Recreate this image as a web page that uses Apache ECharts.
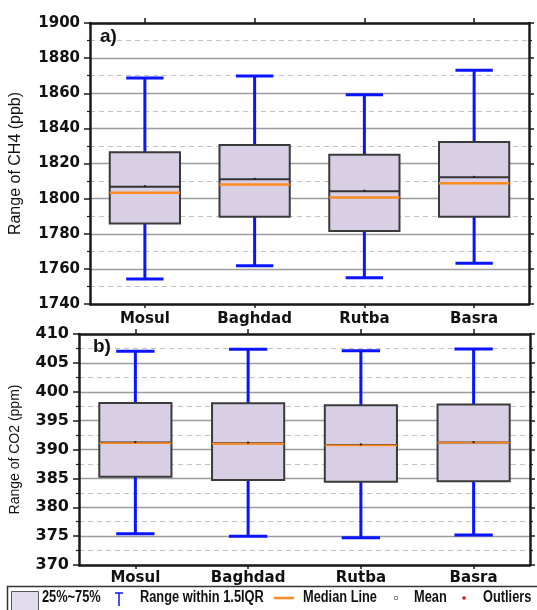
<!DOCTYPE html>
<html>
<head>
<meta charset="utf-8">
<script src="https://cdn.jsdelivr.net/npm/echarts@6/dist/echarts.min.js"></script>
<style>
html,body{margin:0;padding:0;background:#fff;}
#chart{width:537px;height:610px;}
</style>
</head>
<body>
<div id="chart"></div>
<script>
const categories = ['Mosul', 'Baghdad', 'Rutba', 'Basra'];

// CH4 (ppb)
const ch4Min    = [1754.2, 1761.8, 1755.0, 1763.2];
const ch4Q1     = [1785.9, 1789.7, 1781.5, 1789.7];
const ch4Median = [1803.4, 1808.1, 1800.7, 1808.7];
const ch4Mean   = [1806.8, 1811.0, 1804.2, 1812.1];
const ch4Q3     = [1826.4, 1830.5, 1825.0, 1832.2];
const ch4Max    = [1868.7, 1869.8, 1859.2, 1873.1];

// CO2 (ppm)
const co2Min    = [375.4, 375.0, 374.7, 375.2];
const co2Q1     = [385.3, 384.7, 384.4, 384.5];
const co2Median = [391.1, 391.0, 390.7, 391.2];
const co2Mean   = [391.2, 391.1, 390.8, 391.2];
const co2Q3     = [398.05, 398.0, 397.65, 397.8];
const co2Max    = [407.0, 407.35, 407.1, 407.4];

const ch4Axis = { min: 1740, max: 1900, interval: 20 };
const co2Axis = { min: 370, max: 410, interval: 5 };

const legendLabels = ['25%~75%', 'Range within 1.5IQR', 'Median Line', 'Mean', 'Outliers'];

function buildData(mn, q1, md, q3, mx, mean) {
  return categories.map((c, i) => [i, mn[i], q1[i], md[i], q3[i], mx[i], mean[i]]);
}

const BLUE = '#0a14ff', BOXFILL = '#d9cfe5', BOXSTROKE = '#3a3a3a', ORANGE = '#ff8a1f';

function makeRender(medianWidth) {
  return function (params, api) {
    const i = api.value(0);
    const pMin = api.coord([i, api.value(1)]);
    const pQ1 = api.coord([i, api.value(2)]);
    const pMed = api.coord([i, api.value(3)]);
    const pQ3 = api.coord([i, api.value(4)]);
    const pMax = api.coord([i, api.value(5)]);
    const pMean = api.coord([i, api.value(6)]);
    const band = api.size([1, 0])[0];
    const bw = band * 0.64, cw = band * 0.34;
    const x = pMin[0];
    const wl = { stroke: BLUE, lineWidth: 3 };
    return {
      type: 'group',
      children: [
        { type: 'line', shape: { x1: x, y1: pMax[1], x2: x, y2: pQ3[1] }, style: wl },
        { type: 'line', shape: { x1: x, y1: pQ1[1], x2: x, y2: pMin[1] }, style: wl },
        { type: 'line', shape: { x1: x - cw / 2, y1: pMax[1], x2: x + cw / 2, y2: pMax[1] }, style: wl },
        { type: 'line', shape: { x1: x - cw / 2, y1: pMin[1], x2: x + cw / 2, y2: pMin[1] }, style: wl },
        { type: 'rect', shape: { x: x - bw / 2, y: pQ3[1], width: bw, height: pQ1[1] - pQ3[1] },
          style: { fill: BOXFILL, stroke: BOXSTROKE, lineWidth: 2 } },
        { type: 'line', shape: { x1: x - bw / 2, y1: pMean[1], x2: x + bw / 2, y2: pMean[1] },
          style: { stroke: '#333', lineWidth: 2 } },
        { type: 'line', shape: { x1: x - bw / 2, y1: pMed[1], x2: x + bw / 2, y2: pMed[1] },
          style: { stroke: ORANGE, lineWidth: medianWidth } },
        { type: 'rect', shape: { x: x - 1, y: pMean[1] - 1.5, width: 2, height: 2 },
          style: { fill: '#222' } }
      ]
    };
  };
}

const AX = '#1a1a1a';
const solidGrid = { show: true, lineStyle: { color: '#9c9c9c', width: 1.3 } };
const dashGrid = { show: true, lineStyle: { color: '#c2c2c2', width: 1, type: [5, 4] } };

function yLeft(gi, ax, fs) {
  return {
    gridIndex: gi, type: 'value', position: 'left', min: ax.min, max: ax.max, interval: ax.interval,
    axisLine: { show: true, lineStyle: { color: AX, width: 2.5 } },
    axisTick: { show: true, inside: false, length: 6, lineStyle: { color: AX, width: 1.5 } },
    minorTick: { show: true, splitNumber: 2, length: 3, lineStyle: { color: AX, width: 1.2 } },
    splitLine: solidGrid,
    minorSplitLine: dashGrid,
    axisLabel: { margin: 10, color: '#111', fontFamily: 'DejaVu Sans', fontWeight: 'bold', fontSize: fs,
      formatter: v => String(v) }
  };
}
function yRight(gi, ax) {
  return {
    gridIndex: gi, type: 'value', position: 'right', min: ax.min, max: ax.max, interval: ax.interval,
    axisLine: { show: true, lineStyle: { color: AX, width: 2.5 } },
    axisTick: { show: true, inside: false, length: 5, lineStyle: { color: AX, width: 1.5 } },
    minorTick: { show: true, splitNumber: 2, length: 3, lineStyle: { color: AX, width: 1.2 } },
    splitLine: { show: false }, axisLabel: { show: false }
  };
}
function xBottom(gi, margin) {
  return {
    gridIndex: gi, type: 'category', data: categories, position: 'bottom',
    axisLine: { show: true, lineStyle: { color: AX, width: 2.5 } },
    axisTick: { show: true, alignWithLabel: true, length: 4, lineStyle: { color: AX, width: 1.5 } },
    axisLabel: { margin: margin, color: '#111', fontFamily: 'DejaVu Sans', fontWeight: 'bold', fontSize: 15 },
    splitLine: { show: false }
  };
}
function xTop(gi) {
  return {
    gridIndex: gi, type: 'category', data: categories, position: 'top',
    axisLine: { show: true, lineStyle: { color: AX, width: 2.5 } },
    axisTick: { show: true, alignWithLabel: true, length: 5, lineStyle: { color: AX, width: 1.5 } },
    axisLabel: { show: false }, splitLine: { show: false }
  };
}

const chart = echarts.init(document.getElementById('chart'), null, { renderer: 'canvas' });

const yL0 = yLeft(0, ch4Axis, 15);
yL0.name = 'Range of CH4 (ppb)';
yL0.nameLocation = 'middle'; yL0.nameGap = 66; yL0.nameRotate = 90;
yL0.nameTextStyle = { fontFamily: 'Liberation Sans', fontSize: 16, color: '#111' };
const yL1 = yLeft(1, co2Axis, 16);
yL1.name = 'Range of CO2 (ppm)';
yL1.nameLocation = 'middle'; yL1.nameGap = 57; yL1.nameRotate = 90;
yL1.nameTextStyle = { fontFamily: 'Liberation Sans', fontSize: 14, color: '#111' };

const legendFont = 'bold 16px "Liberation Sans", Arial, sans-serif';
const ly = 598;
function legText(x, t) {
  return { type: 'text', x: x, y: ly, scaleX: 0.8, style: { x: 0, y: 0, text: t, font: legendFont, fill: '#111', verticalAlign: 'middle' } };
}

chart.setOption({
  animation: false,
  backgroundColor: '#fff',
  grid: [
    { left: 89, top: 23, width: 440, height: 281 },
    { left: 79, top: 334, width: 451, height: 231 }
  ],
  xAxis: [xBottom(0, 8), xTop(0), xBottom(1, 6), xTop(1)],
  yAxis: [yL0, yRight(0, ch4Axis), yL1, yRight(1, co2Axis)],
  series: [
    { type: 'custom', xAxisIndex: 0, yAxisIndex: 0, renderItem: makeRender(2.5),
      encode: { x: 0, y: [1, 2, 3, 4, 5] }, data: buildData(ch4Min, ch4Q1, ch4Median, ch4Q3, ch4Max, ch4Mean), z: 5 },
    { type: 'custom', xAxisIndex: 2, yAxisIndex: 2, renderItem: makeRender(1.8),
      encode: { x: 0, y: [1, 2, 3, 4, 5] }, data: buildData(co2Min, co2Q1, co2Median, co2Q3, co2Max, co2Mean), z: 5 }
  ],
  graphic: [
    { type: 'text', left: 100, top: 27, z: 10, style: { text: 'a)', font: 'bold 19px "Liberation Sans", Arial, sans-serif', fill: '#111' } },
    { type: 'text', left: 93, top: 337, z: 10, style: { text: 'b)', font: 'bold 19px "Liberation Sans", Arial, sans-serif', fill: '#111' } },
    { type: 'rect', shape: { x: 7.5, y: 586.5, width: 540, height: 30 }, style: { fill: '#fff', stroke: '#333', lineWidth: 1.5 } },
    { type: 'rect', shape: { x: 11.5, y: 591.5, width: 27, height: 22 }, style: { fill: '#e2dcec', stroke: '#555', lineWidth: 1 } },
    legText(42, legendLabels[0]),
    { type: 'line', shape: { x1: 119, y1: 593, x2: 119, y2: 606 }, style: { stroke: BLUE, lineWidth: 1.5 } },
    { type: 'line', shape: { x1: 115, y1: 593, x2: 123, y2: 593 }, style: { stroke: BLUE, lineWidth: 1.5 } },
    legText(140, legendLabels[1]),
    { type: 'line', shape: { x1: 274, y1: 598, x2: 294, y2: 598 }, style: { stroke: ORANGE, lineWidth: 2.5 } },
    legText(303, legendLabels[2]),
    { type: 'rect', shape: { x: 394.5, y: 596.5, width: 3, height: 3 }, style: { fill: '#fff', stroke: '#888', lineWidth: 1 } },
    legText(414, legendLabels[3]),
    { type: 'circle', shape: { cx: 464, cy: 598, r: 1.7 }, style: { fill: '#e00000' } },
    legText(483, legendLabels[4])
  ]
});
</script>
</body>
</html>
